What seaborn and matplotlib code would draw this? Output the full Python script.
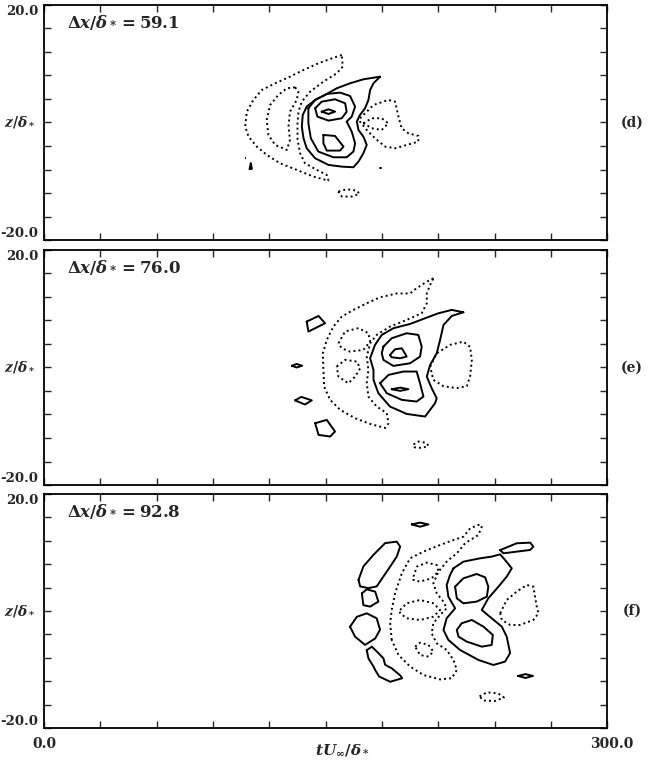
import matplotlib
matplotlib.use("Agg")
import matplotlib.pyplot as plt
import pandas as pd
import seaborn as sns

sns.set_theme(style="ticks")
plt.rcParams['font.family'] = ['DejaVu Serif']
plt.rcParams['font.weight'] = 'bold'
plt.rcParams['mathtext.fontset'] = 'custom'
plt.rcParams['mathtext.rm'] = 'DejaVu Serif:bold'
plt.rcParams['mathtext.it'] = 'DejaVu Serif:italic:bold'
plt.rcParams['mathtext.bf'] = 'DejaVu Serif:bold'

# contour lines, (tU/delta*, z/delta*) pairs
# ---- panel (d), dx/delta* = 59.1
d_pos1 = [(179.0, 7.8), (170.1, 7.35), (163.0, 6.67), (155.9, 5.82), (149.7, 4.69), (144.4, 3.84),
          (139.9, 2.7), (137.8, 1.28), (137.3, -0.7), (138.2, -2.69), (139.9, -4.39), (144.4, -6.09),
          (151.5, -7.22), (158.6, -7.51), (164.8, -7.62), (167.5, -6.65), (170.1, -5.24), (171.9, -3.82),
          (170.1, -2.4), (167.5, -1.27), (166.6, 0.15), (168.3, 1.28), (171.0, 2.42), (172.8, 3.84),
          (173.7, 5.54), (175.5, 6.67), (179.0, 7.8)]
d_pos2 = [(140.8, 2.42), (144.4, 3.84), (150.6, 4.86), (157.7, 5.08), (163.0, 4.52), (165.7, 2.7),
          (163.9, 1.0), (161.2, 0.15), (163.9, -1.55), (165.7, -3.54), (164.8, -4.95), (161.2, -5.92),
          (154.1, -5.92), (146.1, -4.95), (142.1, -2.69), (140.8, -0.13), (140.8, 2.42)]
d_pos3a = [(144.4, 2.42), (147.9, 3.55), (155.0, 3.95), (160.4, 3.27), (161.2, 1.85), (158.6, 0.72),
           (151.5, 0.32), (145.6, 1.0), (144.4, 2.42)]
d_pos4 = [(147.9, 1.85), (151.5, 2.25), (155.0, 1.85), (151.5, 1.45), (147.9, 1.85)]
d_pos3b = [(148.8, -2.12), (155.0, -2.29), (159.5, -4.1), (157.7, -4.78), (150.6, -4.78),
           (148.8, -3.54), (148.8, -2.12)]
d_pos_dot1 = [(109.5, -7.9), (110.7, -7.9), (110.1, -6.9), (109.5, -7.9)]
d_pos_dot2 = [(178.8, -7.8), (179.3, -7.8)]
d_neg1 = [(158.6, 11.49), (153.3, 10.92), (146.1, 10.07), (138.2, 8.94), (131.0, 7.8), (123.1, 6.67),
          (116.0, 5.54), (111.5, 3.84), (108.0, 1.85), (107.1, -0.7), (108.9, -2.4), (113.3, -4.1),
          (118.6, -5.52), (125.7, -6.94), (134.6, -8.07), (143.5, -9.21), (151.5, -9.89), (150.6, -8.92),
          (145.3, -8.07), (139.0, -6.94), (136.4, -5.24), (135.0, -2.97), (135.0, -0.13), (135.5, 1.85),
          (137.3, 3.55), (141.7, 5.25), (148.8, 6.95), (155.9, 8.37), (159.1, 9.51), (158.6, 11.49)]
d_neg2 = [(133.7, 5.99), (129.3, 5.82), (124.8, 4.69), (120.4, 2.98), (118.6, 0.43), (119.5, -2.12),
          (123.1, -3.82), (129.3, -4.67), (131.0, -2.97), (130.2, -0.7), (131.0, 1.85), (134.6, 3.84),
          (135.5, 5.25), (133.7, 5.99)]
d_neg3 = [(168.3, 0.72), (175.5, 2.98), (183.4, 3.84), (187.0, 3.55), (188.8, 1.0), (190.5, -0.98),
          (194.1, -1.84), (199.4, -2.29), (199.4, -3.25), (193.2, -3.82), (187.0, -4.39), (181.7, -4.1),
          (176.3, -2.69), (171.9, -1.27), (168.3, 0.15), (168.3, 0.72)]
d_neg4 = [(170.1, -0.13), (174.6, 0.72), (179.9, 0.72), (183.4, -0.13), (179.9, -1.27), (174.6, -0.98),
          (170.1, -0.13)]
d_neg5 = [(156.8, -11.76), (161.2, -11.36), (166.6, -11.59), (168.0, -12.15), (163.9, -12.6),
          (158.6, -12.6), (156.8, -11.76)]
d_neg_dot = [(106.9, -6.1), (107.3, -6.1)]

# ---- panel (e), dx/delta* = 76.0
e_pos1 = [(223.4, 9.4), (217.2, 9.8), (210.1, 9.23), (203.0, 8.38), (195.0, 7.41), (186.1, 6.68),
          (179.9, 5.54), (176.3, 3.84), (173.7, 1.57), (175.5, -0.41), (175.5, -2.11), (178.1, -4.38),
          (184.3, -6.65), (193.2, -7.9), (203.0, -8.35), (208.3, -6.08), (209.2, -5.23), (206.5, -3.53),
          (203.9, -1.55), (205.7, 0.44), (209.2, 2.42), (211.0, 4.69), (212.8, 7.24), (217.2, 8.77),
          (223.4, 9.4)]
e_pos2a = [(180.8, 3.56), (185.2, 4.98), (193.2, 5.83), (199.4, 5.54), (201.2, 3.56), (200.3, 1.86),
           (195.0, 0.72), (186.1, 0.27), (180.8, 1.29), (179.9, 2.42), (180.8, 3.56)]
e_pos2b = [(179.0, -2.68), (183.5, -1.26), (191.4, -0.69), (198.5, -0.69), (200.3, -2.68),
           (202.1, -4.95), (198.5, -5.8), (190.6, -5.51), (182.6, -4.38), (179.0, -2.68)]
e_pos3a = [(184.3, 2.14), (187.0, 3.1), (190.6, 3.27), (193.2, 1.86), (189.7, 1.57), (185.2, 1.74),
           (184.3, 2.14)]
e_pos3b = [(185.2, -3.7), (189.7, -3.42), (194.1, -3.7), (189.7, -3.98), (185.2, -3.7)]
e_pos_s1 = [(139.9, 7.81), (146.2, 8.77), (149.7, 7.53), (140.8, 6.11), (139.9, 7.81)]
e_pos_s2 = [(132.0, 0.3), (134.5, 0.6), (137.5, 0.3), (134.5, 0.0), (132.0, 0.3)]
e_pos_s3 = [(133.7, -5.6), (137.0, -5.0), (142.6, -5.6), (139.0, -6.3), (133.7, -5.6)]
e_pos_s4 = [(144.4, -9.48), (150.6, -8.92), (155.0, -10.9), (152.4, -11.75), (146.2, -11.47),
            (144.4, -9.48)]
e_neg1 = [(207.4, 15.18), (203.9, 14.6), (198.5, 13.5), (195.0, 12.6), (187.9, 12.6), (179.0, 11.95),
          (171.9, 10.93), (164.8, 9.8), (158.6, 8.66), (154.1, 6.96), (150.6, 4.69), (148.5, 2.42),
          (148.8, -0.41), (149.2, -3.25), (152.4, -5.51), (157.7, -7.2), (165.7, -8.63), (173.7, -9.6),
          (181.7, -10.3), (183.5, -9.5), (182.6, -7.78), (177.2, -6.65), (172.8, -4.95), (171.9, -2.68),
          (172.8, -0.41), (171.9, 1.86), (173.7, 4.13), (177.2, 5.54), (184.3, 6.96), (193.2, 8.1),
          (201.2, 9.23), (203.9, 10.93), (203.9, 12.63), (205.7, 14.05), (207.4, 15.18)]
e_neg2a = [(156.8, 4.13), (160.4, 6.13), (167.5, 6.7), (172.8, 5.83), (173.7, 4.41), (170.1, 3.0),
           (163.0, 2.7), (158.6, 3.27), (156.8, 4.13)]
e_neg2b = [(155.9, 0.16), (160.4, 1.3), (166.6, 1.01), (168.4, -0.13), (165.7, -1.55), (162.1, -2.68),
           (156.8, -1.55), (155.9, 0.16)]
e_neg3 = [(205.7, 0.16), (209.2, 2.4), (216.3, 3.85), (223.4, 4.4), (227.0, 3.5), (227.9, 1.3),
          (227.0, -1.5), (225.2, -3.2), (219.9, -3.5), (212.8, -3.2), (207.4, -2.1), (205.7, 0.16)]
e_neg4 = [(196.8, -13.1), (199.5, -12.6), (203.5, -12.8), (204.8, -13.3), (201.5, -13.7),
          (197.5, -13.6), (196.8, -13.1)]

# ---- panel (f), dx/delta* = 92.8
f_pos1 = [(218.1, 7.29), (223.4, 8.43), (232.3, 9.0), (238.5, 9.29), (243.0, 9.68), (245.6, 8.72),
          (249.2, 7.29), (246.5, 5.87), (242.1, 4.16), (236.7, 2.17), (233.2, 0.17), (238.5, -1.25),
          (243.9, -2.68), (246.5, -4.39), (248.3, -7.2), (245.6, -8.66), (239.4, -9.23), (231.4, -8.37),
          (221.6, -6.66), (215.4, -4.95), (212.8, -3.25), (214.5, -1.25), (219.0, 0.46), (215.4, 2.45),
          (214.5, 4.44), (216.3, 6.15), (218.1, 7.29)]
f_pos2a = [(219.0, 4.16), (223.4, 5.58), (230.5, 6.32), (235.0, 5.75), (236.7, 4.16), (235.9, 2.45),
           (230.5, 1.6), (223.4, 1.31), (219.9, 2.17), (219.0, 4.16)]
f_pos2b = [(219.9, -3.25), (222.5, -2.1), (227.9, -1.54), (234.1, -2.68), (239.1, -4.1), (238.5, -5.81),
           (233.2, -6.1), (225.2, -5.24), (220.8, -4.39), (219.9, -3.25)]
f_pos_s1 = [(195.9, 14.8), (200.3, 15.1), (204.8, 14.8), (200.3, 14.4), (195.9, 14.8)]
f_pos_s2 = [(167.5, 5.3), (170.1, 7.6), (175.5, 9.6), (181.7, 11.6), (187.9, 11.85), (189.7, 11.0),
            (187.9, 9.3), (184.4, 7.6), (180.8, 5.9), (177.2, 4.2), (172.8, 3.9), (168.4, 4.2), (167.5, 5.3)]
f_pos_s3 = [(169.3, 3.0), (171.9, 3.7), (176.4, 3.3), (178.1, 1.6), (173.7, 0.74), (170.1, 1.0), (169.3, 3.0)]
f_pos_s4 = [(163.0, -2.7), (166.6, -1.0), (171.9, -0.4), (177.2, -1.25), (179.0, -3.2), (176.4, -4.7),
            (171.0, -5.8), (165.7, -4.4), (163.0, -2.7)]
f_pos_s5 = [(171.9, -6.7), (174.6, -6.1), (178.1, -7.2), (180.8, -8.1), (181.7, -9.2), (185.2, -9.8),
            (189.7, -11.0), (190.8, -11.5), (184.4, -12.1), (178.5, -11.2), (176.4, -10.1), (175.5, -9.5),
            (172.8, -8.1), (171.9, -6.7)]
f_pos_s6 = [(243.0, 10.4), (251.8, 11.57), (259.0, 11.68), (260.7, 11.0), (259.0, 10.43), (244.8, 9.86),
            (243.0, 10.4)]
f_pos_s7 = [(252.5, -11.1), (256.5, -10.8), (260.5, -11.1), (256.5, -11.45), (252.5, -11.1)]
f_neg1 = [(185.2, -4.96), (184.4, -2.1), (185.2, 0.17), (187.0, 3.02), (190.6, 6.44), (195.0, 9.0),
          (202.1, 10.14), (211.0, 11.28), (218.1, 12.13), (223.4, 12.7), (227.0, 14.13), (232.3, 14.81),
          (233.2, 14.4), (231.4, 12.99), (224.3, 11.57), (219.9, 9.86), (214.5, 8.43), (210.1, 6.72),
          (207.4, 4.73), (209.2, 3.02), (212.8, 1.6), (214.5, 0.46), (211.0, -0.68), (207.4, -2.1),
          (206.5, -3.82), (209.2, -5.53), (214.5, -6.66), (218.1, -8.37), (219.9, -10.1), (217.2, -11.5),
          (211.0, -11.7), (202.1, -10.94), (195.0, -9.5), (188.8, -7.5), (185.2, -4.96)]
f_neg2a = [(196.8, 5.87), (198.6, 7.58), (203.9, 8.26), (209.2, 7.86), (210.1, 6.72), (206.5, 5.58),
           (200.2, 5.02), (196.8, 5.3), (196.8, 5.87)]
f_neg2b = [(189.7, 0.17), (193.2, 1.31), (200.3, 1.88), (207.4, 1.31), (211.0, 0.17), (207.4, -0.97),
           (200.3, -1.54), (193.2, -1.25), (189.7, -0.4), (189.7, 0.17)]
f_neg2c = [(197.7, -6.1), (200.3, -5.41), (204.8, -5.81), (207.4, -6.95), (204.8, -7.8), (200.3, -7.52),
           (197.7, -6.1)]
f_neg3 = [(243.0, -0.4), (246.5, 1.88), (251.8, 3.3), (257.2, 4.44), (260.7, 4.16), (261.6, 2.45),
          (262.5, 0.74), (263.4, -0.4), (260.7, -1.54), (253.6, -2.39), (248.3, -2.39), (243.9, -1.54),
          (243.0, -0.4)]
f_neg4 = [(232.0, -14.6), (236.0, -13.9), (242.0, -14.1), (245.0, -14.8), (240.0, -15.4), (234.0, -15.3),
          (232.0, -14.6)]

panel_tags = ["(d)", "(e)", "(f)"]
panel_dx = ["59.1", "76.0", "92.8"]
solid_lines = [
    [d_pos1, d_pos2, d_pos3a, d_pos4, d_pos3b, d_pos_dot1, d_pos_dot2],
    [e_pos1, e_pos2a, e_pos2b, e_pos3a, e_pos3b, e_pos_s1, e_pos_s2, e_pos_s3, e_pos_s4],
    [f_pos1, f_pos2a, f_pos2b, f_pos_s1, f_pos_s2, f_pos_s3, f_pos_s4, f_pos_s5, f_pos_s6, f_pos_s7],
]
dotted_lines = [
    [d_neg1, d_neg2, d_neg3, d_neg4, d_neg5, d_neg_dot],
    [e_neg1, e_neg2a, e_neg2b, e_neg3, e_neg4],
    [f_neg1, f_neg2a, f_neg2b, f_neg2c, f_neg3, f_neg4],
]

fig = plt.figure(figsize=(6.5, 7.79), dpi=100)
bottoms = [0.6919, 0.3774, 0.0655]
heights = [0.3017, 0.3017, 0.3004]

for i in range(3):
    ax = fig.add_axes([0.068, bottoms[i], 0.866, heights[i]])
    for pts in solid_lines[i]:
        df = pd.DataFrame(pts, columns=["t", "z"])
        sns.lineplot(data=df, x="t", y="z", sort=False, estimator=None,
                     color="black", lw=1.4, ax=ax)
    for pts in dotted_lines[i]:
        df = pd.DataFrame(pts, columns=["t", "z"])
        sns.lineplot(data=df, x="t", y="z", sort=False, estimator=None,
                     color="black", lw=1.4, linestyle=(0, (1, 1.6)), ax=ax)

    ax.set_xlim(0, 300)
    ax.set_ylim(-20, 20)
    ax.set_xticks(range(0, 301, 30))
    ax.set_yticks(range(-20, 21, 4))
    ax.set_xticklabels([])
    ax.set_yticklabels([])
    ax.set_xlabel("")
    ax.set_ylabel("")
    ax.tick_params(direction="in", length=5, width=1, top=True, right=True)
    for s in ax.spines.values():
        s.set_linewidth(1.3)
        s.set_color("black")

    ax.text(-0.011, 1.0, "20.0", transform=ax.transAxes, ha="right", va="top",
            fontsize=9.5, fontweight="bold")
    ax.text(-0.011, 0.0, "-20.0", transform=ax.transAxes, ha="right", va="bottom",
            fontsize=9.5, fontweight="bold")
    ax.text(-0.043, 0.5, r"$z/\delta_*$", transform=ax.transAxes, ha="center", va="center",
            fontsize=10)
    ax.text(1.044, 0.5, panel_tags[i], transform=ax.transAxes, ha="center", va="center",
            fontsize=10, fontweight="bold")
    ax.text(0.04, 0.923, r"$\Delta x/\delta_* = " + panel_dx[i] + "$", transform=ax.transAxes,
            ha="left", va="center", fontsize=12)

    if i == 2:
        ax.text(0.0, -0.038, "0.0", transform=ax.transAxes, ha="center", va="top",
                fontsize=10, fontweight="bold")
        ax.text(1.008, -0.038, "300.0", transform=ax.transAxes, ha="center", va="top",
                fontsize=10, fontweight="bold")
        ax.text(0.529, -0.094, r"$tU_\infty/\delta_*$", transform=ax.transAxes, ha="center",
                va="center", fontsize=11)

fig.savefig("out.png", dpi=100)
